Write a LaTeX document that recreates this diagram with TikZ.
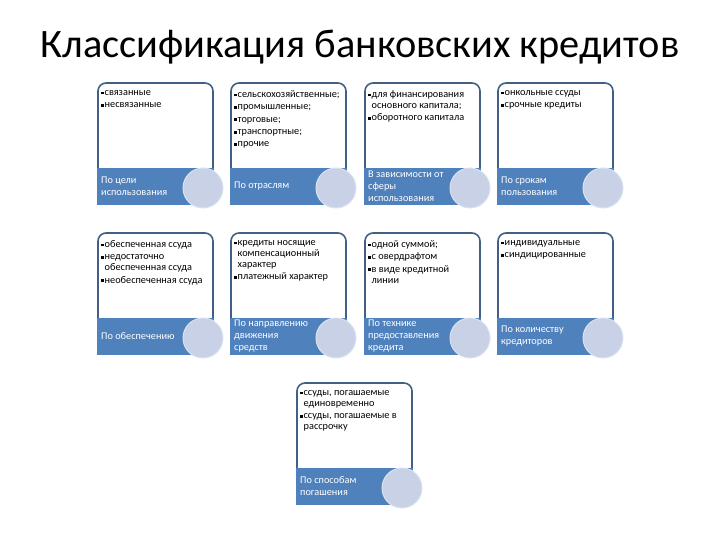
\documentclass[tikz,border=0pt]{standalone}
\usepackage{fontspec}
\setmainfont{Carlito}

\definecolor{framecol}{RGB}{66,96,132}
\definecolor{bandcol}{RGB}{79,129,189}
\definecolor{blobcol}{RGB}{200,209,229}
\definecolor{blobrim}{RGB}{219,226,240}

\newcommand{\itm}{\rule[0.9bp]{2.7bp}{2.7bp}\hspace{0.8bp}}
\newcommand{\cnt}{\hspace*{3.5bp}}

\begin{document}
\begin{tikzpicture}[x=1bp, y=-1bp,
  frame/.style={draw=framecol, line width=1.6bp, fill=white, rounded corners=8bp},
  band/.style={fill=bandcol},
  blob/.style={fill=blobcol, draw=blobrim, line width=1bp},
  list/.style={anchor=north west, inner sep=0pt, align=left, font=\fontsize{10.3}{11}\selectfont},
  tag/.style={anchor=west, inner sep=0pt, align=left, text=white, font=\fontsize{10.3}{12}\selectfont}]

\useasboundingbox (0,0) rectangle (720,540);

% Title
\node[font=\fontsize{40.5}{48}\selectfont] (title) at (360,47) {Классификация банковских кредитов};

% Frames
\draw[frame] (98,83) rectangle (213,204);
\draw[frame] (231,83) rectangle (346,204);
\draw[frame] (365,83) rectangle (480,204);
\draw[frame] (498,83) rectangle (613,204);
\draw[frame] (98,233) rectangle (213,354);
\draw[frame] (231,233) rectangle (346,354);
\draw[frame] (365,233) rectangle (480,354);
\draw[frame] (498,233) rectangle (613,354);
\draw[frame] (297,383) rectangle (412,504);

% Bands
\fill[band] (97.2,168) rectangle (213.8,204.8);
\fill[band] (230.2,168) rectangle (346.8,204.8);
\fill[band] (364.2,168) rectangle (480.8,204.8);
\fill[band] (497.2,168) rectangle (613.8,204.8);
\fill[band] (97.2,318) rectangle (213.8,354.8);
\fill[band] (230.2,318) rectangle (346.8,354.8);
\fill[band] (364.2,318) rectangle (480.8,354.8);
\fill[band] (497.2,318) rectangle (613.8,354.8);
\fill[band] (296.2,468) rectangle (412.8,504.8);

% Circles
\filldraw[blob] (203,188) circle [radius=20bp];
\filldraw[blob] (336,188) circle [radius=20bp];
\filldraw[blob] (470,188) circle [radius=20bp];
\filldraw[blob] (603,188) circle [radius=20bp];
\filldraw[blob] (203,338) circle [radius=20bp];
\filldraw[blob] (336,338) circle [radius=20bp];
\filldraw[blob] (470,338) circle [radius=20bp];
\filldraw[blob] (603,338) circle [radius=20bp];
\filldraw[blob] (402,488) circle [radius=20bp];

% Lists
\node[list] (purpose-list) at (101,90) {\itm связанные\\[1.5bp]\itm несвязанные};
\node[list] (branch-list) at (234,90) {\itm сельскохозяйственные;\\[1.5bp]\itm промышленные;\\[1.5bp]\itm торговые;\\[1.5bp]\itm транспортные;\\[1.5bp]\itm прочие};
\node[list] (sphere-list) at (368,90) {\itm для финансирования\\\cnt основного капитала;\\[1.5bp]\itm оборотного капитала};
\node[list] (term-list) at (501,90) {\itm онкольные ссуды\\[1.5bp]\itm срочные кредиты};
\node[list] (security-list) at (101,240) {\itm обеспеченная ссуда\\[1.5bp]\itm недостаточно\\\cnt обеспеченная ссуда\\[1.5bp]\itm необеспеченная ссуда};
\node[list] (flow-list) at (234,240) {\itm кредиты носящие\\\cnt компенсационный\\\cnt характер\\[1.5bp]\itm платежный характер};
\node[list] (technique-list) at (368,240) {\itm одной суммой;\\[1.5bp]\itm с овердрафтом\\[1.5bp]\itm в виде кредитной\\\cnt линии};
\node[list] (lenders-list) at (501,240) {\itm индивидуальные\\[1.5bp]\itm синдицированные};
\node[list] (repay-list) at (300,390) {\itm ссуды, погашаемые\\\cnt единовременно\\[1.5bp]\itm ссуды, погашаемые в\\\cnt рассрочку};

% Tags
\node[tag] (purpose-tag) at (101,186) {По цели\\использования};
\node[tag] (branch-tag) at (234,186) {По отраслям};
\node[tag] (sphere-tag) at (368,186) {В зависимости от\\сферы\\использования};
\node[tag] (term-tag) at (501,186) {По срокам\\пользования};
\node[tag] (security-tag) at (101,336) {По обеспечению};
\node[tag] (flow-tag) at (234,336) {По направлению\\движения\\средств};
\node[tag] (technique-tag) at (368,336) {По технике\\предоставления\\кредита};
\node[tag] (lenders-tag) at (501,336) {По количеству\\кредиторов};
\node[tag] (repay-tag) at (300,486) {По способам\\погашения};

\end{tikzpicture}
\end{document}
